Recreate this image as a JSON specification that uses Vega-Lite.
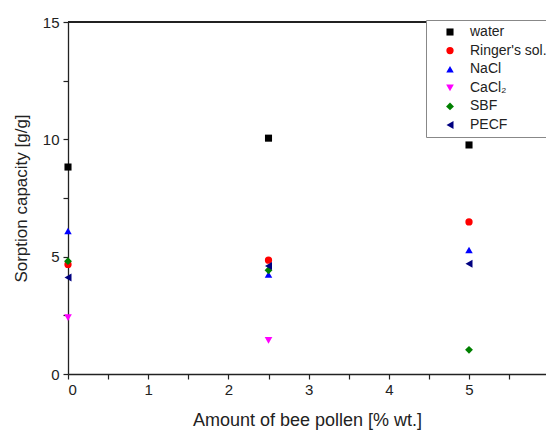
{
  "$schema": "https://vega.github.io/schema/vega-lite/v6.json",
  "autosize": {"type": "none"},
  "padding": {"left": 68, "top": 22, "right": 0, "bottom": 57},
  "width": 478,
  "height": 352,
  "background": "white",
  "config": {
    "view": {"stroke": null},
    "font": "Liberation Sans",
    "axis": {
      "domainColor": "#222",
      "tickColor": "#222",
      "labelColor": "#222",
      "titleColor": "#222",
      "labelFont": "Liberation Sans",
      "titleFont": "Liberation Sans",
      "labelFontSize": 15,
      "titleFontSize": 17,
      "titleFontWeight": "normal",
      "grid": false,
      "domainWidth": 1.3,
      "tickWidth": 1.2
    }
  },
  "data": {
    "values": [
      {"x": 0, "y": 8.82, "medium": "water"},
      {"x": 0, "y": 4.67, "medium": "Ringer's sol."},
      {"x": 0, "y": 6.09, "medium": "NaCl"},
      {"x": 0, "y": 2.4, "medium": "CaCl₂"},
      {"x": 0, "y": 4.81, "medium": "SBF"},
      {"x": 0, "y": 4.11, "medium": "PECF"},
      {"x": 2.5, "y": 10.05, "medium": "water"},
      {"x": 2.5, "y": 4.85, "medium": "Ringer's sol."},
      {"x": 2.5, "y": 4.24, "medium": "NaCl"},
      {"x": 2.5, "y": 1.43, "medium": "CaCl₂"},
      {"x": 2.5, "y": 4.42, "medium": "SBF"},
      {"x": 2.5, "y": 4.6, "medium": "PECF"},
      {"x": 5, "y": 9.76, "medium": "water"},
      {"x": 5, "y": 6.48, "medium": "Ringer's sol."},
      {"x": 5, "y": 5.28, "medium": "NaCl"},
      {"x": 5, "y": 1.03, "medium": "SBF"},
      {"x": 5, "y": 4.7, "medium": "PECF"}
    ]
  },
  "layer": [
    {
      "mark": {"type": "rule", "color": "#222", "strokeWidth": 1.3},
      "encoding": {"y": {"datum": 15}}
    },
    {
      "mark": {"type": "point", "filled": true, "opacity": 1, "clip": false},
      "encoding": {
        "x": {
          "field": "x", "type": "quantitative",
          "scale": {"domain": [0, 5.96], "nice": false, "zero": false},
          "axis": {
            "title": "Amount of bee pollen [% wt.]",
            "titleFontSize": 18,
            "values": [0, 0.5, 1, 1.5, 2, 2.5, 3, 3.5, 4, 4.5, 5, 5.5],
            "labelExpr": "datum.value % 1 == 0 ? format(datum.value, 'd') : ''",
            "tickSize": 5,
            "labelPadding": 3,
            "titlePadding": 14
          }
        },
        "y": {
          "field": "y", "type": "quantitative",
          "scale": {"domain": [0, 15], "nice": false},
          "axis": {
            "title": "Sorption capacity [g/g]",
            "values": [0, 2.5, 5, 7.5, 10, 12.5, 15],
            "labelExpr": "datum.value % 5 == 0 ? format(datum.value, 'd') : ''",
            "tickSize": 5,
            "labelPadding": 4,
            "titlePadding": 12
          }
        },
        "color": {
          "field": "medium", "type": "nominal",
          "scale": {
            "domain": ["water", "Ringer's sol.", "NaCl", "CaCl₂", "SBF", "PECF"],
            "range": ["#000000", "#ff0000", "#0000ff", "#ff00ff", "#008000", "#000080"]
          },
          "legend": {
            "title": null,
            "orient": "none",
            "legendX": 358,
            "legendY": -2,
            "padding": 5,
            "strokeColor": "#888",
            "fillColor": "white",
            "symbolOffset": 12,
            "labelOffset": 13,
            "labelFontSize": 14,
            "labelColor": "#222",
            "labelFont": "Liberation Sans",
            "rowPadding": 4.6
          }
        },
        "shape": {
          "field": "medium", "type": "nominal",
          "scale": {
            "domain": ["water", "Ringer's sol.", "NaCl", "CaCl₂", "SBF", "PECF"],
            "range": ["square", "circle", "triangle-up", "triangle-down", "diamond", "triangle-left"]
          },
          "legend": null
        },
        "size": {
          "field": "medium", "type": "nominal",
          "scale": {
            "domain": ["water", "Ringer's sol.", "NaCl", "CaCl₂", "SBF", "PECF"],
            "range": [50, 65, 80, 80, 65, 80]
          },
          "legend": null
        }
      }
    }
  ]
}
